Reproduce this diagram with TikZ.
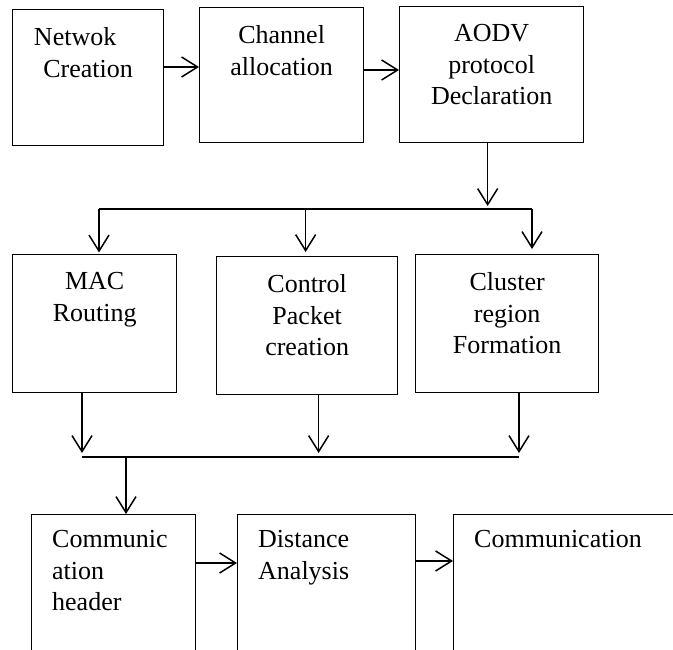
\documentclass[tikz,border=0pt]{standalone}
\usepackage{fontspec}
\setmainfont{Liberation Serif}
\usetikzlibrary{arrows.meta}
\begin{document}
\begin{tikzpicture}[x=1pt,y=-1pt,
  box/.style={draw, line width=1.3pt, inner sep=0pt, anchor=north west},
  lbl/.style={inner sep=0pt, anchor=north, align=center, font=\fontsize{26}{31.5}\selectfont},
  lbll/.style={inner sep=0pt, anchor=north west, align=left, font=\fontsize{26}{31.5}\selectfont},
  ln/.style={line width=1.5pt},
  arr/.style={line width=1.5pt, -{Straight Barb[length=16pt,width=20pt,line width=1.5pt]}}]
\useasboundingbox (0,0) rectangle (673,650);
\clip (0,0) rectangle (673,650);
% boxes
\node[box, minimum width=151pt, minimum height=136pt] (b1) at (12,9) {};
\node[box, minimum width=164pt, minimum height=135pt] (b2) at (199,7) {};
\node[box, minimum width=184pt, minimum height=136pt] (b3) at (399,6) {};
\node[box, minimum width=164pt, minimum height=138pt] (mac) at (12,254) {};
\node[box, minimum width=181pt, minimum height=138pt] (ctrl) at (216,256) {};
\node[box, minimum width=183pt, minimum height=138pt] (clu) at (415,254) {};
\node[box, minimum width=164pt, minimum height=200pt] (ch) at (31,514) {};
\node[box, minimum width=178pt, minimum height=200pt] (dist) at (237,514) {};
\node[box, minimum width=260pt, minimum height=200pt] (comm) at (453,514) {};
% labels
\node[lbl] (b1t) at ([yshift=-18.5pt]b1.north) {Netwok\rule{26pt}{0pt}\\Creation};
\node[lbl] (b2t) at ([yshift=-18.5pt]b2.north) {Channel\\allocation};
\node[lbl] (b3t) at ([yshift=-18.5pt]b3.north) {AODV\\protocol\\Declaration};
\node[lbl] (mact) at ([yshift=-18.5pt]mac.north) {MAC\\Routing};
\node[lbl] (ctrlt) at ([yshift=-18.5pt]ctrl.north) {Control\\Packet\\creation};
\node[lbl] (clut) at ([yshift=-18.5pt]clu.north) {Cluster\\region\\Formation};
\node[lbll] (cht) at ([xshift=21pt,yshift=-16.5pt]ch.north west) {Communic\\ation\\header};
\node[lbll] (distt) at ([xshift=21pt,yshift=-16.5pt]dist.north west) {Distance\\Analysis};
\node[lbll] (commt) at ([xshift=21pt,yshift=-16.5pt]comm.north west) {Communication};
% row 1 arrows
\draw[arr] ([yshift=-58pt]b1.north east) -- ([yshift=-58pt]b1.north east -| b2.west);
\draw[arr] ([yshift=-63pt]b2.north east) -- ([yshift=-63pt]b2.north east -| b3.west);
% first bus
\coordinate (busL) at (99,209);
\coordinate (busR) at (532,209);
\draw[ln] (busL) -- (busR);
\draw[arr, shorten >=3pt] ([xshift=-4pt]b3.south) -- ([xshift=-4pt]b3.south |- busL);
\draw[arr, shorten >=1.5pt] (busL) -- (busL |- mac.north);
\draw[arr, shorten >=4pt] ([xshift=-1.5pt]ctrl.north |- busL) -- ([xshift=-1.5pt]ctrl.north);
\draw[arr, shorten >=5pt] (busR) -- (busR |- clu.north);
% second bus
\coordinate (bus2L) at (82,457);
\coordinate (bus2R) at (519,457);
\coordinate (bus2C) at (126,457);
\draw[ln] (bus2L) -- (bus2R);
\draw[arr, shorten >=4pt] (mac.south -| bus2L) -- (bus2L);
\draw[arr, shorten >=4pt] ([xshift=11.5pt]ctrl.south) -- ([xshift=11.5pt]ctrl.south |- bus2L);
\draw[arr, shorten >=4pt] (clu.south -| bus2R) -- (bus2R);
\draw[arr] (bus2C) -- (bus2C |- ch.north);
% row 3 arrows
\draw[arr] ([yshift=-49pt]ch.north east) -- ([yshift=-49pt]ch.north east -| dist.west);
\draw[arr] ([yshift=-47pt]dist.north east) -- ([yshift=-47pt]dist.north east -| comm.west);
\end{tikzpicture}
\end{document}
